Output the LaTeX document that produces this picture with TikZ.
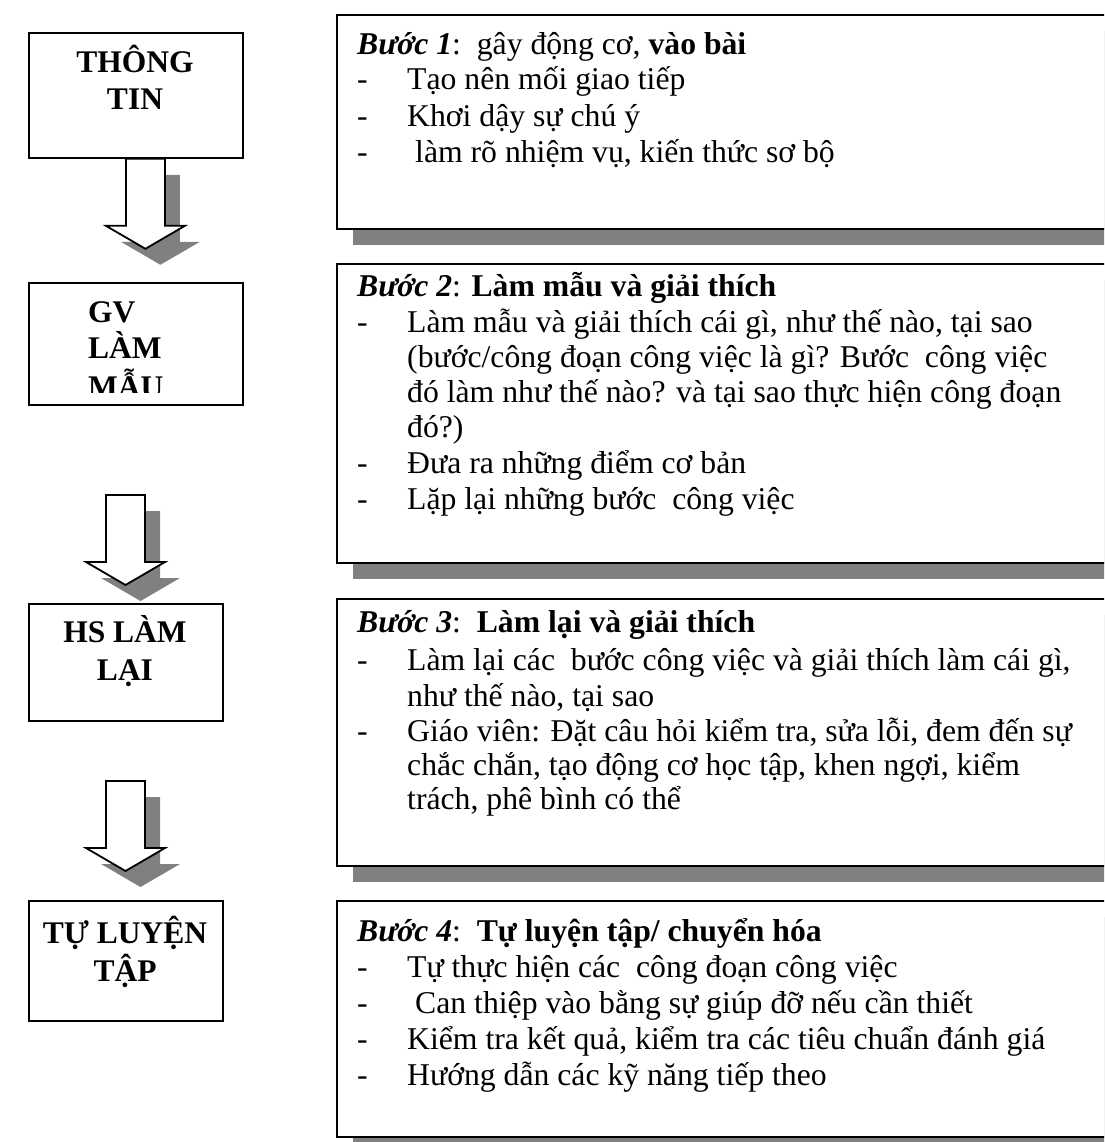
\documentclass[tikz,border=0pt]{standalone}
\usepackage{fontspec}
\setmainfont{Liberation Serif}
\usetikzlibrary{shadows}
\definecolor{shadowgray}{RGB}{128,128,128}
\begin{document}
\begin{tikzpicture}[x=1pt,y=-1pt,
  boxline/.style={draw=black, line width=1.8pt, fill=white, inner sep=0pt},
  grayshadow/.style={drop shadow={shadow xshift=16pt, shadow yshift=-16pt, opacity=1, fill=shadowgray}},
  rightbox/.style={boxline, grayshadow, anchor=north west, minimum width=778pt},
  leftbox/.style={boxline, anchor=north west},
  steptext/.style={anchor=base west, inner sep=0pt, font=\fontsize{31.7}{36}\selectfont},
  lefttext/.style={anchor=base, inner sep=0pt, font=\fontsize{31.5}{37}\selectfont\bfseries},
  leftplain/.style={anchor=base west, inner sep=0pt, font=\fontsize{31.5}{37}\selectfont\bfseries},
  arrowbody/.style={draw=black, line width=1.8pt, fill=white, line join=miter,
    drop shadow={shadow xshift=15pt, shadow yshift=-16pt, opacity=1, fill=shadowgray}},
  blockdown/.pic={
    \draw[arrowbody] (-19.5,0) -- (19.5,0) -- (19.5,67) -- (39.5,67) -- (0,90)
      -- (-39.5,67) -- (-19.5,67) -- cycle;
  }
]
\useasboundingbox (0,0) rectangle (1104,1142);
\clip (0,0) rectangle (1104,1142);

% ---- step boxes on the right ----
\node[rightbox, minimum height=214pt] (s1) at (336,14) {};
\node[rightbox, minimum height=299pt] (s2) at (336,263) {};
\node[rightbox, minimum height=267pt] (s3) at (336,598) {};
\node[rightbox, minimum height=236pt] (s4) at (336,900) {};

% ---- stage boxes on the left ----
\node[leftbox, minimum width=214pt, minimum height=125pt] (info) at (28,32) {};
\node[leftbox, minimum width=214pt, minimum height=122pt] (demo) at (28,282) {};
\node[leftbox, minimum width=194pt, minimum height=117pt] (redo) at (28,603) {};
\node[leftbox, minimum width=194pt, minimum height=120pt] (self) at (28,900) {};

% ---- block arrows between stages ----
\pic (arr1) at ([xshift=9.5pt]info.south) {blockdown};
\coordinate (top2) at (125.5,495);
\pic (arr2) at (top2) {blockdown};
\coordinate (top3) at (125.5,781);
\pic (arr3) at (top3) {blockdown};

% ---- stage labels ----
\node[lefttext] (infoA) at (135,73) {THÔNG};
\node[lefttext] (infoB) at (135,110) {TIN};
\begin{scope}
  \clip (demo.north west) rectangle ([yshift=13pt]demo.south east);
  \node[leftplain] (demoA) at (88,322) {GV};
  \node[leftplain] (demoB) at (88,358) {LÀM};
  \node[leftplain] (demoC) at (88,397) {MẪU};
\end{scope}
\node[lefttext] (redoA) at (125,642) {HS LÀM};
\node[lefttext] (redoB) at (125,680) {LẠI};
\node[lefttext] (selfA) at (125,943) {TỰ LUYỆN};
\node[lefttext] (selfB) at (125,981) {TẬP};

% ---- step 1 ----
\node[steptext] (t1) at (357,55) {\textbf{\textit{Bước 1}}:\ \ gây động cơ, \textbf{vào bài}};
\node[steptext] (d11) at (357,90) {-};
\node[steptext] (l11) at (407,90) {Tạo nên mối giao tiếp};
\node[steptext] (d12) at (357,127) {-};
\node[steptext] (l12) at (407,127) {Khơi dậy sự chú ý};
\node[steptext] (d13) at (357,163) {-};
\node[steptext] (l13) at (415,163) {làm rõ nhiệm vụ, kiến thức sơ bộ};

% ---- step 2 ----
\node[steptext] (t2) at (357,296) {\textbf{\textit{Bước 2}}: \textbf{Làm mẫu và giải thích}};
\node[steptext] (d21) at (357,332) {-};
\node[steptext] (l21) at (407,332) {Làm mẫu và giải thích cái gì, như thế nào, tại sao};
\node[steptext] (l22) at (407,367) {(bước/công đoạn công việc là gì? Bước\ \ công việc};
\node[steptext] (l23) at (407,402) {đó làm như thế nào? và tại sao thực hiện công đoạn};
\node[steptext] (l24) at (407,437) {đó?)};
\node[steptext] (d22) at (357,473) {-};
\node[steptext] (l25) at (407,473) {Đưa ra những điểm cơ bản};
\node[steptext] (d23) at (357,509) {-};
\node[steptext] (l26) at (407,509) {Lặp lại những bước\ \ công việc};

% ---- step 3 ----
\node[steptext] (t3) at (357,632) {\textbf{\textit{Bước 3}}:\ \ \textbf{Làm lại và giải thích}};
\node[steptext] (d31) at (357,670) {-};
\node[steptext] (l31) at (407,670) {Làm lại các\ \ bước công việc và giải thích làm cái gì,};
\node[steptext] (l32) at (407,706) {như thế nào, tại sao};
\node[steptext] (d32) at (357,741) {-};
\node[steptext] (l33) at (407,741) {Giáo viên: Đặt câu hỏi kiểm tra, sửa lỗi, đem đến sự};
\node[steptext] (l34) at (407,775) {chắc chắn, tạo động cơ học tập, khen ngợi, kiểm};
\node[steptext] (l35) at (407,809) {trách, phê bình có thể};

% ---- step 4 ----
\node[steptext] (t4) at (357,941) {\textbf{\textit{Bước 4}}:\ \ \textbf{Tự luyện tập/ chuyển hóa}};
\node[steptext] (d41) at (357,977) {-};
\node[steptext] (l41) at (407,977) {Tự thực hiện các\ \ công đoạn công việc};
\node[steptext] (d42) at (357,1013) {-};
\node[steptext] (l42) at (415,1013) {Can thiệp vào bằng sự giúp đỡ nếu cần thiết};
\node[steptext] (d43) at (357,1049) {-};
\node[steptext] (l43) at (407,1049) {Kiểm tra kết quả, kiểm tra các tiêu chuẩn đánh giá};
\node[steptext] (d44) at (357,1085) {-};
\node[steptext] (l44) at (407,1085) {Hướng dẫn các kỹ năng tiếp theo};
\end{tikzpicture}
\end{document}
